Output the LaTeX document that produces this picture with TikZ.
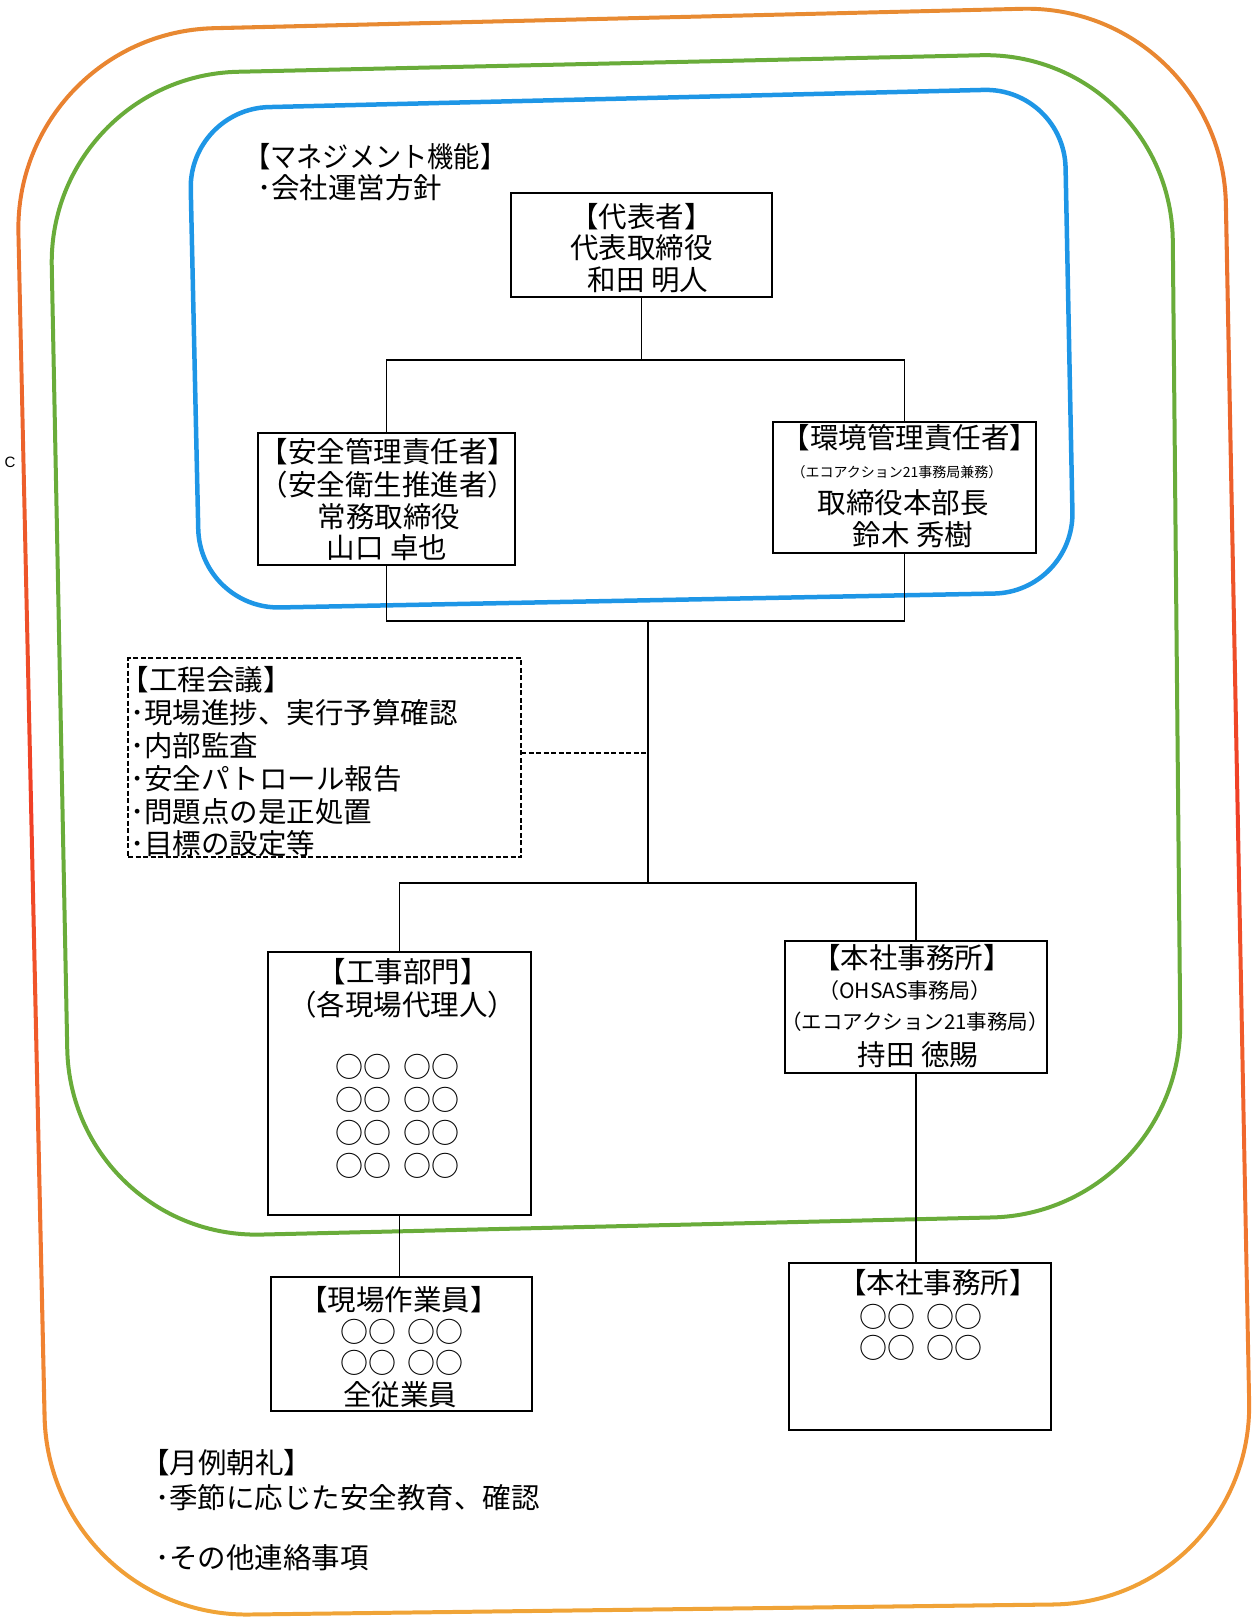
\documentclass[tikz,border=0pt]{standalone}
\usepackage{fontspec}
\usepackage{graphicx}
\usetikzlibrary{calc}
\newfontfamily\jp{Noto Sans CJK JP}
\newfontfamily\lsans{Liberation Sans}
\newcommand{\fsz}[1]{\fontsize{#1}{#1}\selectfont}
\newcommand{\circrow}{○○\hspace{12pt}○○}
\definecolor{blueline}{RGB}{30,150,230}
\definecolor{greenline}{RGB}{105,172,58}
\definecolor{orangetop}{RGB}{232,140,50}
\definecolor{orangebot}{RGB}{240,165,55}
\definecolor{orangered}{RGB}{240,62,38}
\begin{document}
\begin{tikzpicture}[x=1pt,y=-1pt,
  orgbox/.style={draw, line width=1.3pt, inner sep=0pt, outer sep=0pt},
  dashbox/.style={draw, line width=1.3pt, dash pattern=on 5pt off 2.5pt, inner sep=0pt, outer sep=0pt},
  conn/.style={line width=1.3pt},
  dashconn/.style={line width=1.3pt, dash pattern=on 5pt off 2.5pt},
  tline/.style={inner sep=0pt, anchor=base, font=\jp\fsz{28.5}},
  tlinel/.style={inner sep=0pt, anchor=base west, font=\jp\fsz{28.5}},
  circ/.style={inner sep=0pt, anchor=base, font=\jp\fsz{28}}]
\useasboundingbox (0,0) rectangle (1256,1624);

% ---- outer orange frame (shaded ring) ----
\shade[even odd rule, top color=orangetop, bottom color=orangebot, middle color=orangered,
  rounded corners=202pt]
  ($(12,31)!0.5!(1224,2)$) -- (1224,2) -- (1255,1604) -- (47,1619) -- (12,31) -- cycle
  [rounded corners=198pt]
  ($(16,35)!0.5!(1220,6)$) -- (1220,6) -- (1251,1600) -- (51,1615) -- (16,35) -- cycle;

% ---- green frame ----
\draw[greenline, line width=4pt, rounded corners=190pt]
  ($(48,76)!0.5!(1171,51)$) -- (1171,51) -- (1182,1213) -- (71,1239) -- (48,76) -- cycle;

% ---- blue frame ----
\draw[blueline, line width=4.5pt, rounded corners=80pt]
  ($(189,109)!0.5!(1064,88)$) -- (1064,88) -- (1074,592) -- (200,609) -- (189,109) -- cycle;

\node[inner sep=0pt, font=\lsans\fsz{15}] (cmark) at (10,462) {C};

% ---- boxes ----
\node[orgbox, minimum width=261pt, minimum height=104pt] (daihyo) at (641.5,245) {};
\node[orgbox, minimum width=257pt, minimum height=132pt] (anzen) at (386.5,499) {};
\node[orgbox, minimum width=263pt, minimum height=131pt] (kankyo) at (904.5,487.5) {};
\node[dashbox, minimum width=393pt, minimum height=199pt] (kotei) at (324.5,757.5) {};
\node[orgbox, minimum width=263pt, minimum height=263pt] (koji) at (399.5,1083.5) {};
\node[orgbox, minimum width=262pt, minimum height=132pt] (honsha1) at (916,1007) {};
\node[orgbox, minimum width=261pt, minimum height=134pt] (genba) at (401.5,1344) {};
\node[orgbox, minimum width=262pt, minimum height=167pt] (honsha2) at (920,1346.5) {};

% ---- connectors ----
\coordinate (j1) at (641.5,360);
\coordinate (j2) at (648,621);
\coordinate (k1) at (648,753);
\coordinate (j3) at (648,883);
\draw[conn] (daihyo.south) -- (j1);
\draw[conn] (anzen.north) |- (j1) -| (kankyo.north);
\draw[conn] (anzen.south) |- (j2) -| (kankyo.south);
\draw[conn] (j2) -- (j3);
\draw[dashconn] (kotei.east |- k1) -- (k1);
\draw[conn] (koji.north) |- (j3) -| (honsha1.north);
\draw[conn] (koji.south) -- (koji.south |- genba.north);
\draw[conn] (honsha1.south) -- (honsha1.south |- honsha2.north);

% ---- management text ----
\node[tlinel] (mg1) at (244,167.8) {\scalebox{0.92}[1]{【マネジメント機能】}};
\node[tlinel] (mg2) at (257,198.8) {･会社運営方針};

% ---- daihyo ----
\node[tline] (dh1) at (641.5,227.8) {【代表者】};
\node[tline] (dh2) at (641.5,258.8) {代表取締役};
\node[tline] (dh3) at (648,290.8) {和田 明人};

% ---- anzen ----
\node[tline] (an1) at (388,462.8) {【安全管理責任者】};
\node[tline] (an2) at (388,495.8) {（安全衛生推進者）};
\node[tline] (an3) at (389,527.8) {常務取締役};
\node[tline] (an4) at (387,558.8) {山口 卓也};

% ---- kankyo ----
\node[tline] (kk1) at (910,448.8) {【環境管理責任者】};
\node[tline, font=\jp\fsz{14}] (kk2) at (897,477.3) {（エコアクション21事務局兼務）};
\node[tline] (kk3) at (903,513.8) {取締役本部長};
\node[tline] (kk4) at (913,545.8) {鈴木 秀樹};

% ---- kotei ----
\node[tlinel] (kt1) at (120.5,690.8) {【工程会議】};
\node[tlinel] (kt2) at (130,723.6) {･現場進捗、実行予算確認};
\node[tlinel] (kt3) at (130,756.4) {･内部監査};
\node[tlinel] (kt4) at (130,789.2) {･安全パトロール報告};
\node[tlinel] (kt5) at (130,822) {･問題点の是正処置};
\node[tlinel] (kt6) at (130,854.8) {･目標の設定等};

% ---- koji ----
\node[tline] (kj1) at (403,982.8) {【工事部門】};
\node[tline] (kj2) at (402,1015.8) {（各現場代理人）};
\node[circ] (kj3) at (397.5,1077.6) {\circrow};
\node[circ] (kj4) at (397.5,1110.6) {\circrow};
\node[circ] (kj5) at (397.5,1143.6) {\circrow};
\node[circ] (kj6) at (397.5,1176.6) {\circrow};

% ---- honsha1 ----
\node[tline] (hs1) at (912,968.8) {【本社事務所】};
\node[tline, font=\jp\fsz{21}] (hs2) at (905,998) {（OHSAS事務局）};
\node[tline, font=\jp\fsz{20.5}] (hs3) at (915,1029.8) {（エコアクション21事務局）};
\node[tline] (hs4) at (918,1065.8) {持田 徳賜};

% ---- genba ----
\node[tline] (gb1) at (399,1310.8) {【現場作業員】};
\node[circ] (gb2) at (402,1342.6) {\circrow};
\node[circ] (gb3) at (402,1373.6) {\circrow};
\node[tline] (gb4) at (400,1405.8) {全従業員};

% ---- honsha2 ----
\node[tline] (hn1) at (938,1293.8) {【本社事務所】};
\node[circ] (hn2) at (921,1327.6) {\circrow};
\node[circ] (hn3) at (921,1358.6) {\circrow};

% ---- getsurei ----
\node[tlinel] (gs1) at (141,1473.8) {【月例朝礼】};
\node[tlinel] (gs2) at (155,1508.8) {･季節に応じた安全教育、確認};
\node[tlinel] (gs3) at (155,1568.8) {･その他連絡事項};
\end{tikzpicture}
\end{document}
